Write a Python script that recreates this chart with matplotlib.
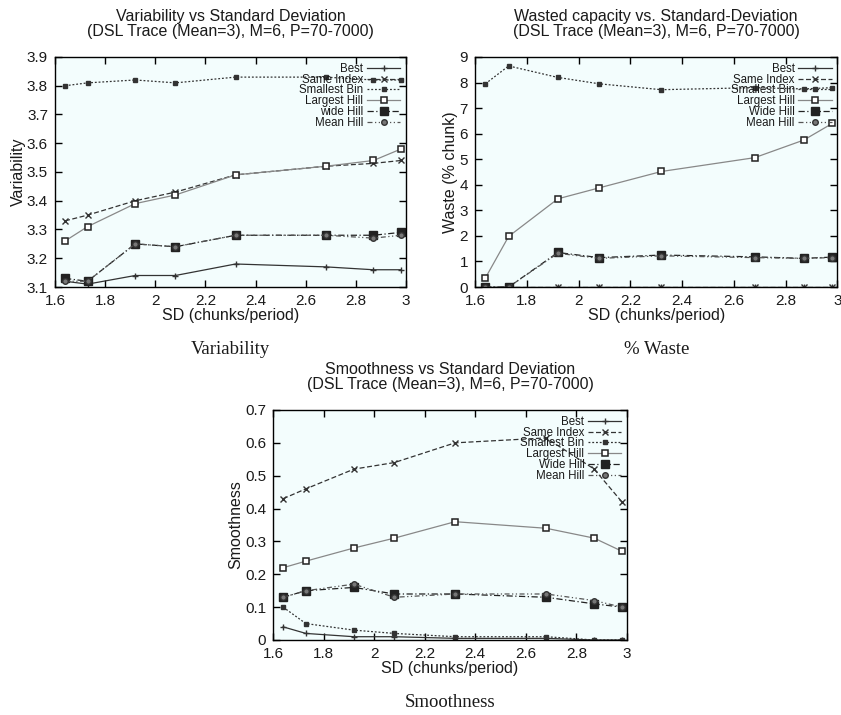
#chart recreation: variability / waste / smoothness vs SD
import numpy as np
import matplotlib
matplotlib.use("Agg")
import matplotlib.pyplot as plt
from matplotlib.ticker import FormatStrFormatter, MultipleLocator

plt.rcParams['font.family'] = ['Liberation Sans', 'DejaVu Sans']

sd = [1.64, 1.73, 1.92, 2.08, 2.32, 2.68, 2.87, 2.98]
names = ["Best", "Same Index", "Smallest Bin", "Largest Hill", "Wide Hill", "Mean Hill"]
names_var = ["Best", "Same Index", "Smallest Bin", "Largest Hill", "wide Hill", "Mean Hill"]

# variability
var_best = [3.12, 3.11, 3.14, 3.14, 3.18, 3.17, 3.16, 3.16]
var_same = [3.33, 3.35, 3.40, 3.43, 3.49, 3.52, 3.53, 3.54]
var_small = [3.80, 3.81, 3.82, 3.81, 3.83, 3.83, 3.82, 3.82]
var_large = [3.26, 3.31, 3.39, 3.42, 3.49, 3.52, 3.54, 3.58]
var_wide = [3.13, 3.12, 3.25, 3.24, 3.28, 3.28, 3.28, 3.29]
var_mean = [3.12, 3.12, 3.25, 3.24, 3.28, 3.28, 3.27, 3.28]

# waste
waste_best = [0, 0, 0, 0, 0, 0, 0, 0]
waste_same = [0, 0, 0, 0, 0, 0, 0, 0]
waste_small = [7.95, 8.65, 8.2, 7.95, 7.72, 7.8, 7.75, 7.8]
waste_large = [0.35, 1.98, 3.45, 3.88, 4.52, 5.06, 5.75, 6.4]
waste_wide = [0, 0, 1.35, 1.15, 1.25, 1.18, 1.12, 1.17]
waste_mean = [0, 0, 1.32, 1.12, 1.22, 1.15, 1.12, 1.15]

# smoothness
sm_best = [0.04, 0.02, 0.01, 0.01, 0.005, 0.005, 0.0, 0.0]
sm_same = [0.43, 0.46, 0.52, 0.54, 0.60, 0.615, 0.52, 0.42]
sm_small = [0.10, 0.05, 0.03, 0.02, 0.01, 0.01, 0.0, 0.0]
sm_large = [0.22, 0.24, 0.28, 0.31, 0.36, 0.34, 0.31, 0.27]
sm_wide = [0.13, 0.15, 0.16, 0.14, 0.14, 0.13, 0.11, 0.10]
sm_mean = [0.13, 0.15, 0.17, 0.13, 0.14, 0.14, 0.12, 0.10]

# gnuplot-ish styles for the 6 series
styles = [
    dict(ls='-', marker='+', ms=5, color='#333333', lw=0.9),
    dict(ls=(0, (4, 2)), marker='x', ms=4, color='#333333', lw=0.9),
    dict(ls=(0, (1.5, 1.5)), marker='s', ms=3, color='#333333', lw=0.9),
    dict(ls='-', marker='s', ms=5, mfc='white', mew=1.1, color='#888888', mec='#222222', lw=0.9),
    dict(ls=(0, (5, 2, 1, 2)), marker='s', ms=6, color='#222222', lw=0.9),
    dict(ls=(0, (4, 2, 1, 2, 1, 2)), marker='o', ms=4, mfc='#777777', mec='#333333', color='#555555', lw=0.9),
]

txt = '#1a1a1a'


def panel(ax, series, labels, ylim, ystep, title, ylabel, caption, yfmt):
    for y, lab, st in zip(series, labels, styles):
        ax.plot(sd, y, label=lab, **st)
    ax.set_facecolor('#f3fdfd')
    ax.set_xlim(1.6, 3.0)
    ax.set_ylim(*ylim)
    ax.xaxis.set_major_locator(MultipleLocator(0.2))
    ax.yaxis.set_major_locator(MultipleLocator(ystep))
    ax.xaxis.set_major_formatter(FormatStrFormatter('%g'))
    ax.yaxis.set_major_formatter(FormatStrFormatter(yfmt))
    ax.tick_params(direction='in', top=True, right=True, length=5, width=1,
                   labelsize=11, colors='black', labelcolor=txt)
    ax.tick_params(axis='x', pad=5)
    ax.tick_params(axis='y', pad=5)
    for s in ax.spines.values():
        s.set_linewidth(1)
    ax.set_xlabel('SD (chunks/period)', fontsize=11.5, color=txt, labelpad=0)
    ax.set_ylabel(ylabel, fontsize=11.5, color=txt, labelpad=1)
    ax.set_title(title, fontsize=11.5, color=txt, linespacing=1.05, pad=15)
    leg = ax.legend(loc='upper right', frameon=False, markerfirst=False,
                    fontsize=8.3, handlelength=2.9, labelspacing=-0.1,
                    handletextpad=0.3, borderaxespad=0.2, borderpad=0.3)
    for t in leg.get_texts():
        t.set_color(txt)
    ax.text(0.5, -0.27, caption, transform=ax.transAxes, ha='center', va='center',
            fontsize=13.5, family='Liberation Serif', color=txt)


fig = plt.figure(figsize=(8.41, 7.15), dpi=100)
ax1 = fig.add_axes([0.0654, 0.5986, 0.4174, 0.3217])
ax2 = fig.add_axes([0.5648, 0.5986, 0.4310, 0.3217])
ax3 = fig.add_axes([0.3246, 0.1049, 0.4210, 0.3217])

panel(ax1, [var_best, var_same, var_small, var_large, var_wide, var_mean], names_var,
      (3.1, 3.9), 0.1, 'Variability vs Standard Deviation\n(DSL Trace (Mean=3), M=6, P=70-7000)',
      'Variability', 'Variability', '%g')
panel(ax2, [waste_best, waste_same, waste_small, waste_large, waste_wide, waste_mean], names,
      (0, 9), 1, 'Wasted capacity vs. Standard-Deviation\n(DSL Trace (Mean=3), M=6, P=70-7000)',
      'Waste (% chunk)', '% Waste', '%g')
panel(ax3, [sm_best, sm_same, sm_small, sm_large, sm_wide, sm_mean], names,
      (0, 0.7), 0.1, 'Smoothness vs Standard Deviation\n(DSL Trace (Mean=3), M=6, P=70-7000)',
      'Smoothness', 'Smoothness', '%g')

fig.savefig('out.png', dpi=100)
